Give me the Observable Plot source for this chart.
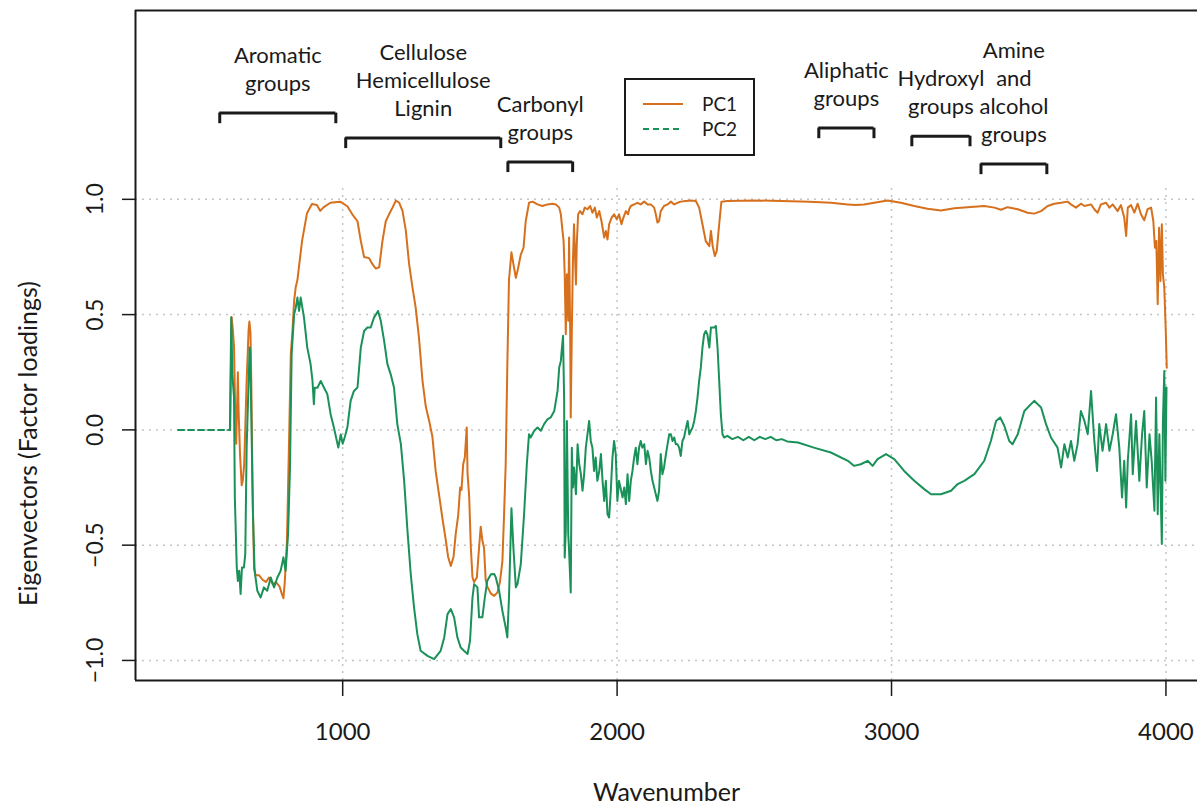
<!DOCTYPE html>
<html><head><meta charset="utf-8">
<script src="https://cdn.jsdelivr.net/npm/d3@7"></script>
<script src="https://cdn.jsdelivr.net/npm/@observablehq/plot@0.6"></script>
<style>
body{margin:0;background:#fff;}
#wrap{position:relative;width:1197px;height:804px;overflow:hidden;}
#wrap svg.overlay{position:absolute;left:0;top:0;}
</style></head><body><div id="wrap"></div>
<script>
// ---------- data ----------
const pc1Wn = [590,595,600,604,608,612,618,621,626,632,636,641,650,657,660,664,667,671,677,683,695,708,720,732,745,757,770,778,784,789,797,804,811,817,823,829,835,846,852,870,888,906,918,930,955,991,1017,1035,1054,1066,1078,1096,1108,1120,1133,1145,1157,1169,1182,1194,1206,1218,1230,1242,1254,1266,1278,1291,1303,1315,1327,1339,1351,1363,1376,1384,1394,1404,1412,1421,1428,1433,1439,1445,1452,1455,1461,1467,1473,1479,1489,1497,1503,1509,1515,1521,1527,1540,1552,1564,1573,1582,1588,1594,1600,1606,1615,1622,1631,1639,1649,1659,1667,1679,1692,1710,1728,1746,1764,1777,1789,1795,1801,1805,1809,1813,1817,1822,1825,1829,1831,1835,1839,1843,1850,1853,1858,1865,1874,1882,1892,1902,1910,1919,1926,1935,1943,1953,1959,1965,1971,1980,1989,1999,2007,2016,2023,2032,2040,2044,2050,2062,2074,2086,2099,2111,2123,2135,2141,2147,2153,2159,2171,2184,2196,2208,2220,2232,2250,2269,2287,2299,2311,2323,2336,2342,2348,2356,2363,2372,2380,2402,2500,2600,2700,2780,2840,2870,2900,2937,2986,3034,3083,3131,3180,3229,3277,3338,3375,3399,3423,3460,3496,3520,3545,3569,3593,3618,3642,3654,3672,3690,3703,3727,3739,3751,3763,3782,3794,3806,3824,3836,3848,3855,3861,3873,3885,3897,3909,3921,3933,3946,3954,3960,3965,3970,3975,3980,3985,3989,3994,3999,4003];
const pc1Val = [0.0,0.49,0.43,0.36,0.10,-0.06,0.25,0.07,-0.11,-0.24,-0.22,-0.15,0.21,0.43,0.47,0.42,0.21,-0.22,-0.60,-0.63,-0.63,-0.65,-0.66,-0.64,-0.67,-0.66,-0.68,-0.71,-0.73,-0.66,-0.48,-0.08,0.33,0.43,0.56,0.62,0.65,0.76,0.82,0.94,0.98,0.975,0.95,0.965,0.985,0.99,0.97,0.935,0.905,0.82,0.75,0.745,0.72,0.70,0.705,0.82,0.905,0.935,0.965,0.995,0.985,0.95,0.865,0.72,0.62,0.53,0.40,0.21,0.10,0.04,-0.03,-0.18,-0.28,-0.38,-0.48,-0.55,-0.59,-0.55,-0.45,-0.37,-0.25,-0.26,-0.15,-0.12,0.01,-0.19,-0.29,-0.51,-0.64,-0.66,-0.64,-0.51,-0.42,-0.48,-0.51,-0.65,-0.68,-0.71,-0.72,-0.705,-0.66,-0.57,-0.37,-0.15,0.28,0.65,0.77,0.72,0.66,0.70,0.76,0.79,0.905,0.985,0.99,0.978,0.971,0.978,0.981,0.978,0.964,0.935,0.863,0.819,0.675,0.415,0.675,0.473,0.834,0.429,0.054,0.429,0.733,0.892,0.631,0.805,0.935,0.949,0.935,0.964,0.957,0.971,0.942,0.964,0.921,0.949,0.906,0.834,0.863,0.826,0.892,0.921,0.935,0.913,0.935,0.892,0.921,0.949,0.935,0.957,0.971,0.978,0.985,0.978,0.99,0.978,0.978,0.964,0.935,0.899,0.906,0.949,0.971,0.978,0.99,0.978,0.985,0.99,0.993,0.995,0.993,0.964,0.892,0.819,0.797,0.863,0.80,0.754,0.775,0.892,0.99,0.993,0.995,0.993,0.99,0.985,0.978,0.975,0.978,0.985,0.995,0.985,0.971,0.959,0.952,0.961,0.966,0.971,0.964,0.955,0.966,0.957,0.942,0.938,0.949,0.971,0.981,0.985,0.99,0.978,0.964,0.981,0.971,0.978,0.957,0.942,0.978,0.985,0.964,0.978,0.949,0.975,0.921,0.841,0.964,0.975,0.942,0.981,0.935,0.909,0.957,0.964,0.906,0.79,0.819,0.545,0.877,0.646,0.892,0.675,0.617,0.444,0.27];

const pc2Wn = [400,589,594,598,604,607,614,618,623,628,633,640,645,650,661,663,667,673,679,689,701,713,725,738,750,762,774,784,792,801,808,814,823,829,835,841,847,853,859,871,883,890,895,898,908,920,932,944,956,968,984,993,1000,1008,1017,1029,1041,1054,1066,1078,1090,1102,1114,1129,1139,1151,1163,1175,1187,1199,1212,1224,1236,1248,1260,1272,1284,1309,1333,1357,1370,1382,1394,1406,1418,1430,1442,1455,1464,1473,1479,1491,1497,1509,1518,1527,1540,1552,1558,1570,1582,1594,1600,1606,1615,1622,1631,1637,1649,1661,1671,1679,1685,1698,1710,1722,1734,1746,1758,1771,1777,1783,1789,1795,1798,1803,1807,1809,1813,1817,1822,1825,1831,1835,1839,1843,1850,1856,1862,1868,1874,1880,1886,1892,1898,1904,1910,1916,1922,1928,1935,1941,1947,1953,1959,1965,1971,1977,1983,1989,1995,2001,2007,2014,2020,2026,2032,2038,2044,2050,2056,2062,2068,2074,2080,2086,2092,2099,2105,2111,2117,2123,2129,2135,2141,2147,2153,2159,2165,2171,2178,2184,2190,2196,2202,2208,2214,2220,2226,2232,2238,2244,2250,2257,2263,2269,2275,2281,2287,2293,2299,2305,2311,2317,2323,2329,2336,2342,2354,2360,2366,2372,2378,2384,2390,2402,2420,2440,2460,2480,2500,2520,2540,2560,2580,2600,2620,2659,2717,2779,2841,2863,2888,2913,2931,2949,2980,3010,3046,3083,3119,3144,3180,3217,3241,3265,3302,3338,3362,3381,3396,3411,3429,3441,3460,3484,3520,3545,3563,3581,3605,3618,3630,3642,3654,3666,3678,3690,3703,3715,3727,3739,3749,3757,3769,3782,3794,3806,3818,3830,3840,3848,3855,3861,3873,3879,3891,3903,3913,3921,3930,3940,3948,3958,3964,3970,3976,3985,3989,3994,3998,4002];
const pc2Val = [0,0,0.487,0.241,0.14,-0.293,-0.597,-0.655,-0.611,-0.712,-0.597,-0.597,-0.539,-0.077,0.357,0.342,0.068,-0.366,-0.611,-0.698,-0.727,-0.683,-0.698,-0.64,-0.683,-0.64,-0.611,-0.553,-0.611,-0.452,-0.163,0.328,0.501,0.53,0.574,0.516,0.574,0.53,0.487,0.357,0.285,0.212,0.111,0.183,0.183,0.212,0.183,0.155,0.068,0.01,-0.077,-0.02,-0.06,-0.03,0.01,0.126,0.169,0.184,0.357,0.429,0.444,0.444,0.487,0.516,0.472,0.386,0.285,0.241,0.184,0.025,-0.062,-0.221,-0.437,-0.625,-0.77,-0.886,-0.958,-0.98,-0.994,-0.958,-0.9,-0.799,-0.777,-0.813,-0.9,-0.944,-0.958,-0.972,-0.915,-0.727,-0.669,-0.683,-0.813,-0.813,-0.727,-0.654,-0.626,-0.625,-0.64,-0.698,-0.785,-0.857,-0.9,-0.727,-0.34,-0.51,-0.683,-0.669,-0.582,-0.366,-0.149,-0.019,-0.033,-0.004,0.01,-0.004,0.025,0.046,0.054,0.082,0.126,0.169,0.27,0.299,0.343,0.408,0.126,-0.554,-0.438,0.039,-0.452,-0.524,-0.705,-0.077,-0.25,-0.163,-0.279,-0.062,-0.149,-0.192,-0.264,-0.192,-0.077,-0.019,0.039,-0.048,-0.077,-0.178,-0.12,-0.221,-0.178,-0.105,-0.221,-0.308,-0.221,-0.366,-0.38,-0.264,-0.12,-0.048,-0.105,-0.308,-0.221,-0.26,-0.293,-0.25,-0.322,-0.192,-0.308,-0.221,-0.178,-0.12,-0.077,-0.149,-0.077,-0.048,-0.077,-0.062,-0.149,-0.091,-0.12,-0.178,-0.221,-0.25,-0.279,-0.308,-0.264,-0.105,-0.192,-0.163,-0.105,-0.062,-0.019,-0.019,-0.048,-0.033,-0.062,-0.062,-0.077,-0.113,-0.048,-0.033,0.003,0.039,-0.019,-0.004,0.01,0.039,0.082,0.14,0.213,0.27,0.357,0.414,0.429,0.414,0.357,0.444,0.444,0.451,0.357,0.213,0.068,-0.019,-0.033,-0.026,-0.04,-0.03,-0.045,-0.03,-0.045,-0.03,-0.04,-0.03,-0.045,-0.04,-0.05,-0.055,-0.077,-0.098,-0.134,-0.156,-0.149,-0.134,-0.156,-0.127,-0.105,-0.127,-0.178,-0.221,-0.257,-0.279,-0.279,-0.264,-0.235,-0.221,-0.192,-0.134,-0.048,0.039,0.054,0.018,-0.048,-0.062,-0.019,0.082,0.126,0.097,0.025,-0.033,-0.077,-0.163,-0.062,-0.12,-0.048,-0.134,-0.062,0.082,0.039,-0.019,0.169,-0.048,-0.178,0.025,-0.091,0.025,-0.091,-0.019,0.068,-0.077,-0.293,-0.134,-0.337,-0.134,0.068,-0.192,0.039,-0.221,-0.019,0.082,-0.25,-0.019,-0.134,-0.351,0.14,-0.366,-0.019,-0.495,0.039,0.255,-0.221,0.184];

const xTicks = [1000, 2000, 3000, 4000];
const yTicks = [-1, -0.5, 0, 0.5, 1];

const groupNames = ["Aromatic\ngroups", "Cellulose\nHemicellulose\nLignin", "Carbonyl\ngroups", "Aliphatic\ngroups", "Hydroxyl\ngroups", "Amine\nand\nalcohol\ngroups"];
const groupFrom  = [552, 1011, 1602, 2735, 3074, 3326];
const groupTo    = [975, 1576, 1838, 2936, 3286, 3566];
const groupLevel = [1.374, 1.266, 1.162, 1.309, 1.274, 1.153];

const seriesNames = ["PC1", "PC2"];
const seriesColors = ["#D6701C", "#1A9158"];
const xLabel = "Wavenumber";
const yLabel = "Eigenvectors (Factor loadings)";

// ---------- build ----------
const pc1 = pc1Wn.map((w, i) => ({wn: w, v: pc1Val[i]}));
const pc2 = pc2Wn.map((w, i) => ({wn: w, v: pc2Val[i]}));
const pc2Flat = pc2.filter(d => d.wn <= 589);
const pc2Main = pc2.filter(d => d.wn >= 589);
const groups = groupNames.map((n, i) => ({name: n, a: groupFrom[i], b: groupTo[i], lvl: groupLevel[i], mid: (groupFrom[i] + groupTo[i]) / 2}));

const xDomain = [245, 4115];
const yDomain = [-1.087, 1.819];
const gridTop = 1.066;
const drop = 0.046;
const FONT = "Lato, 'Liberation Sans', sans-serif";
const ink = "#1a1a1a";
const fmt = d3.format(".1f");

const chart = Plot.plot({
  width: 1197, height: 804,
  marginLeft: 135, marginRight: 0, marginTop: 10, marginBottom: 124,
  style: {fontFamily: FONT, background: "#fff", overflow: "visible", color: ink},
  x: {domain: xDomain, axis: null},
  y: {domain: yDomain, axis: null},
  marks: [
    Plot.ruleY(yTicks, {stroke: "#c4c4c4", strokeWidth: 1.5, strokeDasharray: "2,5"}),
    Plot.ruleX(xTicks, {y1: yDomain[0], y2: gridTop, stroke: "#c4c4c4", strokeWidth: 1.5, strokeDasharray: "2,5"}),
    Plot.ruleX([xDomain[0]], {stroke: ink, strokeWidth: 2}),
    Plot.ruleY([yDomain[0], yDomain[1]], {stroke: ink, strokeWidth: 2}),
    Plot.axisX({ticks: xTicks, tickSize: 16, tickPadding: 26, fontSize: 24, tickFormat: d3.format("d"), label: null, strokeWidth: 1.5}),
    Plot.axisY({ticks: yTicks, tickSize: 13, tickFormat: () => "", label: null, strokeWidth: 1.5}),
    Plot.text(yTicks, {y: d => d, frameAnchor: "left", textAnchor: "middle", lineAnchor: "middle", text: d => fmt(d), rotate: -90, dx: -40, fontSize: 23, fill: ink}),
    Plot.line(pc1, {x: "wn", y: "v", stroke: seriesColors[0], strokeWidth: 2}),
    Plot.line(pc2Flat, {x: "wn", y: "v", stroke: seriesColors[1], strokeWidth: 2, strokeDasharray: "6,4"}),
    Plot.line(pc2Main, {x: "wn", y: "v", stroke: seriesColors[1], strokeWidth: 2}),
    Plot.ruleY(groups, {y: "lvl", x1: "a", x2: "b", stroke: ink, strokeWidth: 3}),
    Plot.ruleX(groups, {x: "a", y1: "lvl", y2: d => d.lvl - drop, stroke: ink, strokeWidth: 3}),
    Plot.ruleX(groups, {x: "b", y1: "lvl", y2: d => d.lvl - drop, stroke: ink, strokeWidth: 3}),
    Plot.text(groups, {x: "mid", y: "lvl", text: "name", lineAnchor: "bottom", lineHeight: 1.28, dy: -22, fontSize: 22, fill: ink}),
    Plot.text([xLabel], {frameAnchor: "bottom", textAnchor: "middle", dy: 120, fontSize: 25, fill: ink}),
    Plot.text([yLabel], {frameAnchor: "left", textAnchor: "middle", lineAnchor: "middle", rotate: -90, dx: -107, dy: 98, fontSize: 25, fill: ink})
  ]
});

const wrap = document.getElementById("wrap");
wrap.appendChild(chart);

// legend overlay
const lg = d3.select(wrap).append("svg").attr("class", "overlay")
  .attr("width", 1197).attr("height", 804)
  .style("font-family", FONT);
lg.append("rect").attr("x", 625).attr("y", 79).attr("width", 129).attr("height", 76)
  .attr("fill", "#fff").attr("stroke", ink).attr("stroke-width", 2);
seriesNames.forEach((name, i) => {
  const yy = 104 + i * 25;
  lg.append("line").attr("x1", 643).attr("x2", 683).attr("y1", yy).attr("y2", yy)
    .attr("stroke", seriesColors[i]).attr("stroke-width", 2)
    .attr("stroke-dasharray", i === 1 ? "6,4" : null);
  lg.append("text").attr("x", 702).attr("y", yy).attr("dy", "0.35em")
    .attr("font-size", 19).attr("fill", ink).text(name);
});
</script></body></html>
